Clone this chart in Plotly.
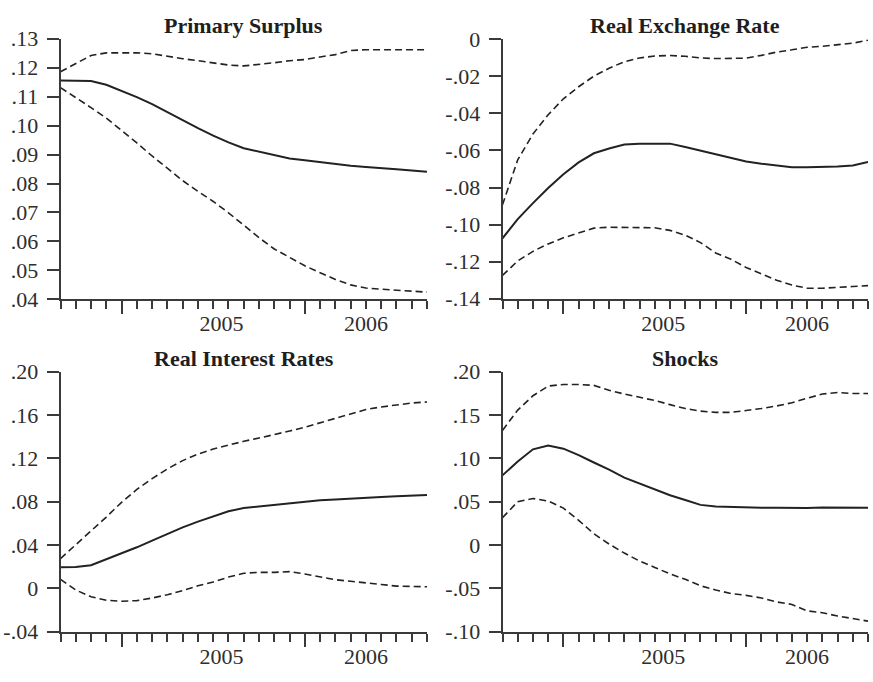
import pandas as pd
import plotly.graph_objects as go

# Monthly observations, Sep 2004 - Sep 2006
months = [p.strftime("%Y-%m") for p in pd.period_range("2004-09", "2006-09", freq="M")]

# Primary surplus: median path and confidence band
surplus_mid = [0.1156, 0.1155, 0.1154, 0.1141, 0.1120, 0.1098, 0.1074, 0.1046, 0.1018,
               0.0991, 0.0965, 0.0942, 0.0922, 0.0910, 0.0896, 0.0886, 0.0880, 0.0873,
               0.0867, 0.0861, 0.0857, 0.0852, 0.0849, 0.0845, 0.0841]
surplus_hi = [0.1186, 0.1215, 0.1242, 0.1251, 0.1251, 0.1251, 0.1248, 0.1239, 0.1231,
              0.1224, 0.1217, 0.1209, 0.1206, 0.1211, 0.1217, 0.1224, 0.1228, 0.1237,
              0.1245, 0.1259, 0.1262, 0.1262, 0.1262, 0.1262, 0.1262]
surplus_lo = [0.1131, 0.1098, 0.1062, 0.1026, 0.0984, 0.0940, 0.0895, 0.0851, 0.0810,
              0.0773, 0.0738, 0.0699, 0.0655, 0.0613, 0.0574, 0.0544, 0.0516, 0.0492,
              0.0469, 0.0450, 0.0439, 0.0435, 0.0432, 0.0430, 0.0425]

# Real exchange rate
rer_mid = [-0.1074, -0.0970, -0.0884, -0.0802, -0.0728, -0.0664, -0.0615, -0.0589, -0.0568,
           -0.0563, -0.0563, -0.0563, -0.0581, -0.0601, -0.0620, -0.0641, -0.0659, -0.0671,
           -0.0681, -0.0690, -0.0690, -0.0690, -0.0686, -0.0681, -0.0662]
rer_hi = [-0.0893, -0.0650, -0.0511, -0.0407, -0.0321, -0.0256, -0.0199, -0.0156, -0.0121,
          -0.0101, -0.0090, -0.0088, -0.0092, -0.0101, -0.0104, -0.0104, -0.0102, -0.0087,
          -0.0069, -0.0057, -0.0043, -0.0038, -0.0031, -0.0021, -0.0005]
rer_lo = [-0.1274, -0.1196, -0.1144, -0.1104, -0.1071, -0.1045, -0.1019, -0.1014, -0.1014,
          -0.1014, -0.1017, -0.1031, -0.1057, -0.1097, -0.1153, -0.1187, -0.1231, -0.1265,
          -0.1300, -0.1326, -0.1343, -0.1343, -0.1340, -0.1334, -0.1329]

# Real interest rates
rir_mid = [0.0195, 0.0197, 0.0213, 0.0267, 0.0320, 0.0379, 0.0441, 0.0504, 0.0563,
           0.0616, 0.0667, 0.0711, 0.0741, 0.0756, 0.0770, 0.0788, 0.0800, 0.0812,
           0.0821, 0.0830, 0.0839, 0.0844, 0.0850, 0.0856, 0.0862]
rir_hi = [0.0275, 0.0400, 0.0527, 0.0658, 0.0794, 0.0913, 0.1013, 0.1102, 0.1179,
          0.1239, 0.1286, 0.1324, 0.1357, 0.1387, 0.1416, 0.1452, 0.1487, 0.1529,
          0.1570, 0.1609, 0.1650, 0.1674, 0.1695, 0.1710, 0.1720]
rir_lo = [0.0083, -0.0015, -0.0077, -0.0110, -0.0119, -0.0113, -0.0089, -0.0059, -0.0021,
          0.0024, 0.0059, 0.0104, 0.0139, 0.0148, 0.0148, 0.0154, 0.0133, 0.0104,
          0.0080, 0.0065, 0.0053, 0.0036, 0.0021, 0.0015, 0.0015]

# Shocks
shock_mid = [0.0804, 0.0963, 0.1104, 0.1148, 0.1111, 0.1037, 0.0952, 0.0870, 0.0778,
             0.0711, 0.0648, 0.0574, 0.0519, 0.0463, 0.0444, 0.0437, 0.0433, 0.0430,
             0.0430, 0.0426, 0.0426, 0.0433, 0.0433, 0.0430, 0.0430]
shock_hi = [0.1322, 0.1556, 0.1722, 0.1833, 0.1852, 0.1852, 0.1841, 0.1785, 0.1741,
            0.1704, 0.1667, 0.1619, 0.1574, 0.1544, 0.1530, 0.1530, 0.1548, 0.1574,
            0.1604, 0.1641, 0.1693, 0.1741, 0.1759, 0.1748, 0.1748]
shock_lo = [0.0315, 0.0500, 0.0537, 0.0507, 0.0426, 0.0285, 0.0130, 0.0011, -0.0093,
            -0.0185, -0.0259, -0.0333, -0.0396, -0.0470, -0.0519, -0.0559, -0.0581, -0.0611,
            -0.0656, -0.0685, -0.0759, -0.0781, -0.0819, -0.0848, -0.0878]

# Y-axis tick values per panel
surplus_ticks = [0.04, 0.05, 0.06, 0.07, 0.08, 0.09, 0.10, 0.11, 0.12, 0.13]
rer_ticks = [-0.14, -0.12, -0.10, -0.08, -0.06, -0.04, -0.02, 0.0]
rir_ticks = [-0.04, 0.0, 0.04, 0.08, 0.12, 0.16, 0.20]
shock_ticks = [-0.10, -0.05, 0.0, 0.05, 0.10, 0.15, 0.20]

# Year labels and where they sit along the month index
year_labels = ["2005", "2006"]
year_label_pos = [10.55, 20.0]

W, H = 873, 682
FONT = "Liberation Serif, Times New Roman, serif"
INK = "#222222"
AXIS = "#3a3a3a"

x = list(range(len(months)))
jan_idx = [i for i, m in enumerate(months) if m.endswith("-01")]


def fmt(v):
    if abs(v) < 1e-12:
        return "0"
    s = f"{v:.2f}"
    return s.replace("0.", ".", 1)


# title, median, lower, upper, y ticks, plot box (left, right, top, bottom in px), title centre y (px)
panels = [
    ("Primary Surplus", surplus_mid, surplus_lo, surplus_hi, surplus_ticks, (60.5, 427.0, 27.7, 298.3), 14),
    ("Real Exchange Rate", rer_mid, rer_lo, rer_hi, rer_ticks, (502.5, 868.0, 28.3, 297.7), 14),
    ("Real Interest Rates", rir_mid, rir_lo, rir_hi, rir_ticks, (60.5, 427.0, 373.3, 643.3), 360),
    ("Shocks", shock_mid, shock_lo, shock_hi, shock_ticks, (502.5, 868.0, 373.3, 643.3), 360),
]

fig = go.Figure()
layout = dict(
    width=W, height=H,
    margin=dict(l=0, r=0, t=0, b=0),
    paper_bgcolor="white", plot_bgcolor="white",
    showlegend=False,
    font=dict(family=FONT, size=22, color="#2e2e2e"),
    annotations=[],
)

for k, (title, mid, lo, hi, yt, (x0, x1, y0, y1), ty) in enumerate(panels, start=1):
    xa, ya = f"x{k}", f"y{k}"
    for series, dash, w in ((hi, "7px,4px", 1.6), (lo, "7px,4px", 1.6), (mid, "solid", 2.0)):
        fig.add_trace(go.Scatter(x=x, y=series, mode="lines", xaxis=xa, yaxis=ya,
                                 line=dict(color=INK, width=w, dash=dash),
                                 hoverinfo="skip"))
    # invisible trace so the year-label axis is rendered
    fig.add_trace(go.Scatter(x=[x[0]], y=[mid[0]], mode="markers", xaxis=f"x{k + 4}", yaxis=ya,
                             marker=dict(opacity=0), hoverinfo="skip"))

    xdom = [x0 / W, x1 / W]
    ydom = [1 - y1 / H, 1 - y0 / H]
    layout[f"xaxis{k}"] = dict(
        domain=xdom, anchor=ya, range=[0, len(months) - 1],
        showline=True, linecolor=AXIS, linewidth=1.8,
        showgrid=False, zeroline=False,
        ticks="outside", tickvals=jan_idx, ticklen=13, tickwidth=1.6, tickcolor=AXIS,
        showticklabels=False,
        minor=dict(ticks="outside", tick0=0, dtick=1, ticklen=8, tickwidth=1.6,
                   tickcolor=AXIS, showgrid=False),
    )
    layout[f"yaxis{k}"] = dict(
        domain=ydom, anchor=xa, range=[min(yt), max(yt)],
        showline=True, linecolor=AXIS, linewidth=1.8,
        showgrid=False, zeroline=False,
        ticks="outside", ticklen=12, tickwidth=1.6, tickcolor=AXIS,
        tickvals=yt, ticktext=[fmt(v) for v in yt],
        ticklabelstandoff=4,
    )
    # overlay axis carrying the year labels
    layout[f"xaxis{k + 4}"] = dict(
        overlaying=xa, anchor=ya, side="bottom", range=[0, len(months) - 1],
        showline=False, showgrid=False, zeroline=False, ticks="",
        tickvals=year_label_pos, ticktext=year_labels,
        ticklabelstandoff=9,
    )
    layout["annotations"].append(dict(
        text=f"<b>{title}</b>", xref="paper", yref="paper",
        x=(xdom[0] + xdom[1]) / 2, y=1 - ty / H,
        xanchor="center", yanchor="middle", showarrow=False,
        font=dict(family=FONT, size=22, color="#1e1e1e"),
    ))

fig.update_layout(**layout)
fig.write_html("out.html")
